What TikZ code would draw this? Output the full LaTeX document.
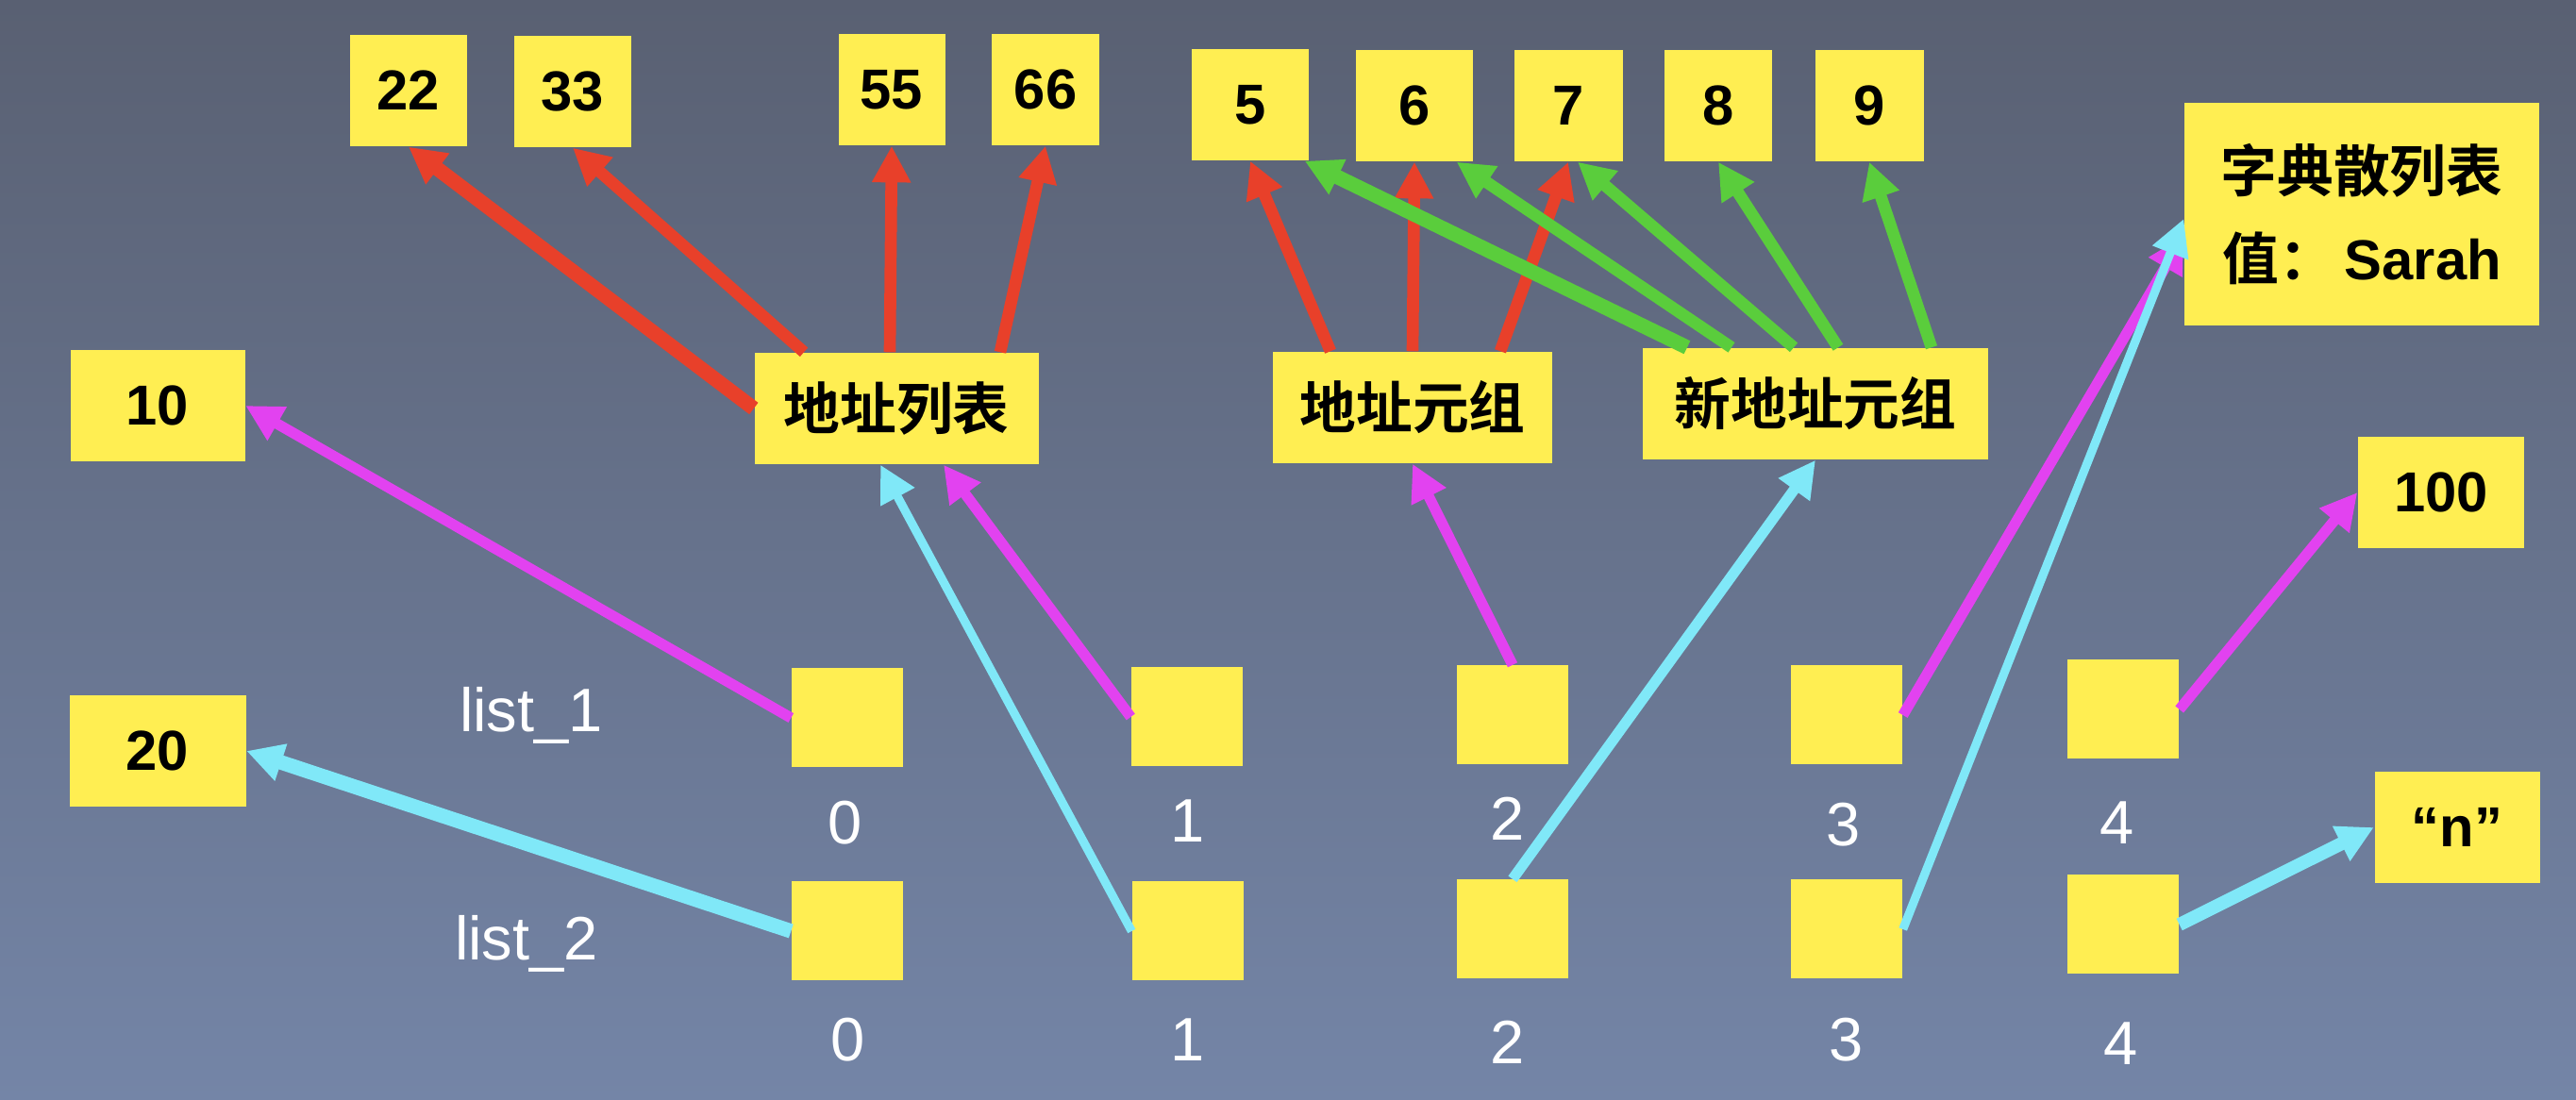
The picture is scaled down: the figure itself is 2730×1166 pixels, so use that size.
\documentclass[tikz,border=0pt]{standalone}
\usepackage{fontspec}
\setmainfont{Liberation Sans}
\newfontfamily\cjk{Noto Sans CJK SC}[BoldFont={Noto Sans CJK SC Bold}]
\usetikzlibrary{arrows.meta}
\definecolor{boxyellow}{RGB}{255,238,82}
\definecolor{arrred}{RGB}{232,64,42}
\definecolor{arrgreen}{RGB}{90,205,60}
\definecolor{arrmag}{RGB}{226,66,240}
\definecolor{arrcyan}{RGB}{128,232,248}
\definecolor{bgtop}{RGB}{89,96,114}
\definecolor{bgbot}{RGB}{116,133,167}
\tikzset{
  box/.style={fill=boxyellow, inner sep=0pt, minimum height=11.8mm,
    font=\fontsize{17}{22}\selectfont\bfseries},
  cell/.style={fill=boxyellow, inner sep=0pt, minimum width=11.8mm, minimum height=10.5mm},
  idx/.style={text=white, inner sep=0pt, font=\fontsize{18.5}{20}\selectfont},
  arr/.style={-{Triangle[length=11pt,width=11pt]}, line width=3.6pt},
  redarr/.style={arr, draw=arrred},
  greenarr/.style={arr, draw=arrgreen},
  magarr/.style={arr, draw=arrmag, line width=3.2pt},
  cyanarr/.style={arr, draw=arrcyan, line width=3.2pt}
}
\begin{document}
\begin{tikzpicture}[x=0.1mm,y=-0.1mm]
\useasboundingbox (0,0) rectangle (2730,1166);
\shade[top color=bgtop, bottom color=bgbot] (0,0) rectangle (2730,1166);
\node[box, minimum width=12.4mm] (n22) at (433,96) {22};
\node[box, minimum width=12.4mm] (n33) at (607,97) {33};
\node[box, minimum width=11.3mm] (n55) at (945,95) {55};
\node[box, minimum width=11.4mm] (n66) at (1108,95) {66};
\node[box, minimum width=12.4mm] (n5) at (1325,111) {5};
\node[box, minimum width=12.4mm] (n6) at (1499,112) {6};
\node[box, minimum width=11.5mm] (n7) at (1662,112) {7};
\node[box, minimum width=11.4mm] (n8) at (1821,112) {8};
\node[box, minimum width=11.5mm] (n9) at (1981,112) {9};
\node[box, minimum width=37.6mm, minimum height=23.6mm, align=center] (dict) at (2503,227)
  {{\cjk 字典散列表}\\[1.5mm]{\cjk 值：}\,Sarah};
\node[box, minimum width=18.5mm] (n10) at (167,430) {10};
\node[box, minimum width=30.1mm] (addrlist) at (950,433) {\cjk 地址列表};
\node[box, minimum width=29.6mm] (tuple) at (1497,432) {\cjk 地址元组};
\node[box, minimum width=36.6mm] (newtuple) at (1924,428) {\cjk 新地址元组};
\node[box, minimum width=17.6mm] (n100) at (2587,522) {100};
\node[box, minimum width=17.5mm] (nq) at (2604,877) {“n”};
\node[box, minimum width=18.7mm] (n20) at (167,796) {20};
\node[idx] (l1) at (563,758) {list\_1};
\node[idx] (l2) at (558,1000) {list\_2};
\node[cell] (a0) at (898,761) {};
\node[cell] (a1) at (1258,760) {};
\node[cell] (a2) at (1603,758) {};
\node[cell] (a3) at (1957,758) {};
\node[cell] (a4) at (2250,752) {};
\node[cell] (b0) at (898,987) {};
\node[cell] (b1) at (1259,987) {};
\node[cell] (b2) at (1603,985) {};
\node[cell] (b3) at (1957,985) {};
\node[cell] (b4) at (2250,980) {};
\node[idx] (i0) at (896,872) {0};
\node[idx] (i1) at (1259,870) {1};
\node[idx] (i2) at (1598,868) {2};
\node[idx] (i3) at (1954,874) {3};
\node[idx] (i4) at (2244,872) {4};
\node[idx] (j0) at (899,1102) {0};
\node[idx] (j1) at (1259,1102) {1};
\node[idx] (j2) at (1598,1105) {2};
\node[idx] (j3) at (1957,1102) {3};
\node[idx] (j4) at (2248,1106) {4};
\draw[redarr, line width=4.4pt] (addrlist.west) -- (n22.south);
\draw[redarr] ([xshift=-9.8mm]addrlist.north) -- (n33.south);
\draw[redarr] ([xshift=-0.7mm]addrlist.north) -- (n55.south);
\draw[redarr] ([xshift=11mm]addrlist.north) -- (n66.south);
\draw[redarr] ([xshift=-8.7mm]tuple.north) -- (n5.south);
\draw[redarr] (tuple.north) -- (n6.south);
\draw[redarr] ([xshift=9.3mm]tuple.north) -- (n7.south);
\draw[greenarr, line width=4.4pt] ([xshift=-13.6mm]newtuple.north) -- ([xshift=-0.5mm]n5.south east);
\draw[greenarr] ([xshift=-8.9mm]newtuple.north) -- ([xshift=-1.8mm]n6.south east);
\draw[greenarr] ([xshift=-2.3mm]newtuple.north) -- ([xshift=1mm]n7.south);
\draw[greenarr] ([xshift=2.4mm]newtuple.north) -- (n8.south);
\draw[greenarr] ([xshift=12.3mm]newtuple.north) -- (n9.south);
\draw[magarr] (a0.west) -- (n10.east);
\draw[cyanarr, line width=4.4pt] (b0.west) -- (n20.east);
\draw[magarr] (a1.west) -- ([xshift=5mm]addrlist.south);
\draw[cyanarr, line width=2.6pt] (b1.west) -- ([xshift=-1.7mm]addrlist.south);
\draw[magarr] (a2.north) -- (tuple.south);
\draw[cyanarr] (b2.north) -- (newtuple.south);
\draw[magarr] (a3.east) -- ([yshift=-2.3mm]dict.west);
\draw[cyanarr, line width=2.6pt] (b3.east) -- ([yshift=-0.5mm]dict.west);
\draw[magarr] (a4.east) -- (n100.west);
\draw[cyanarr, line width=4pt] (b4.east) -- (nq.west);
\end{tikzpicture}
\end{document}
